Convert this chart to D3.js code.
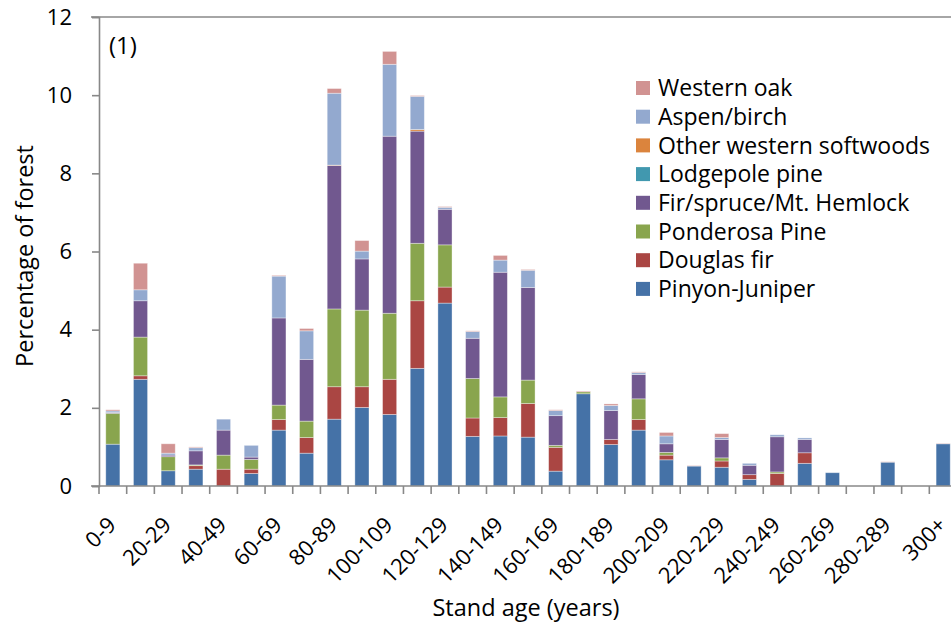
<!DOCTYPE html>
<html>
<head>
<meta charset="utf-8">
<script src="https://cdn.jsdelivr.net/npm/d3@7"></script>
<style>
  html, body { margin: 0; padding: 0; background: #fff; }
  svg text { font-family: "Open Sans", Lato, sans-serif; fill: #000; }
</style>
</head>
<body>
<svg id="chart" width="951" height="631"></svg>
<script>
// Stand-age classes (10-year bins)
const ageClasses = ["0-9","10-19","20-29","30-39","40-49","50-59","60-69","70-79","80-89","90-99",
  "100-109","110-119","120-129","130-139","140-149","150-159","160-169","170-179","180-189","190-199",
  "200-209","210-219","220-229","230-239","240-249","250-259","260-269","270-279","280-289","290-299","300+"];

// Percentage of forest by forest-type group, one value per age class
const pinyonJuniper = [1.07,2.73,0.39,0.43,0,0.32,1.43,0.84,1.71,2.01,1.83,3.01,4.68,1.27,1.28,1.25,0.38,2.36,1.06,1.43,0.67,0.51,0.48,0.17,0,0.58,0.34,0,0.61,0,1.08];
const douglasFir    = [0,0.09,0,0.09,0.43,0.11,0.27,0.40,0.83,0.53,0.90,1.73,0.41,0.47,0.47,0.86,0.61,0,0.13,0.27,0.12,0,0.16,0.12,0.32,0.27,0,0,0,0,0];
const ponderosaPine = [0.79,0.99,0.36,0.02,0.36,0.25,0.37,0.42,1.99,1.96,1.69,1.47,1.08,1.01,0.53,0.60,0.05,0.05,0,0.53,0.07,0,0.08,0,0.04,0,0,0,0,0,0];
const firSpruce     = [0.02,0.93,0.04,0.36,0.64,0.06,2.23,1.58,3.67,1.31,4.53,2.87,0.91,1.03,3.19,2.37,0.76,0,0.74,0.62,0.22,0,0.47,0.24,0.90,0.34,0,0,0,0,0];
const lodgepolePine = [0,0,0,0,0,0,0,0,0,0,0,0,0,0,0,0,0,0,0,0,0,0,0,0,0,0,0,0,0,0,0];
const otherSoftwood = [0,0,0,0,0,0,0,0,0.01,0,0,0.04,0,0,0,0,0,0,0,0,0,0,0,0,0,0,0,0,0,0,0];
const aspenBirch    = [0.04,0.28,0.05,0.08,0.28,0.30,1.07,0.73,1.84,0.20,1.84,0.85,0.05,0.17,0.31,0.44,0.13,0,0.13,0.05,0.20,0,0.05,0.05,0.05,0.04,0,0,0,0,0];
const westernOak    = [0.03,0.68,0.24,0.02,0,0,0.02,0.06,0.12,0.27,0.33,0.02,0.02,0.02,0.12,0.02,0.02,0.02,0.04,0.02,0.09,0.01,0.10,0,0,0,0,0,0.01,0,0.01];

// Series, bottom of the stack first
const seriesNames  = ["Pinyon-Juniper","Douglas fir","Ponderosa Pine","Fir/spruce/Mt. Hemlock","Lodgepole pine","Other western softwoods","Aspen/birch","Western oak"];
const seriesValues = [pinyonJuniper, douglasFir, ponderosaPine, firSpruce, lodgepolePine, otherSoftwood, aspenBirch, westernOak];
const seriesColors = ["#4572A7","#AA4643","#89A54E","#71588F","#4198AF","#DB843D","#93A9CF","#D19392"];

const yTicks = [0, 2, 4, 6, 8, 10, 12];

const svg = d3.select("#chart");
const plotLeft = 99, plotRight = 957, plotTop = 17, plotBottom = 486;

const x = d3.scaleBand().domain(ageClasses).range([plotLeft, plotRight]).paddingInner(0.49).paddingOuter(0.245);
const y = d3.scaleLinear().domain([0, 12]).range([plotBottom, plotTop]);

// Rows for the stack layout
const rows = ageClasses.map((c, i) => {
  const r = { age: c };
  seriesNames.forEach((s, k) => { r[s] = seriesValues[k][i]; });
  return r;
});
const stacked = d3.stack().keys(seriesNames)(rows);

// Bars
svg.append("g").selectAll("g").data(stacked).join("g")
  .attr("fill", (d, i) => seriesColors[i])
  .selectAll("rect").data(d => d.filter(p => p[1] - p[0] > 0)).join("rect")
  .attr("x", d => x(d.data.age))
  .attr("width", x.bandwidth())
  .attr("y", d => y(d[1]))
  .attr("height", d => y(d[0]) - y(d[1]))
  .attr("stroke", "#ffffff")
  .attr("stroke-opacity", 0.45)
  .attr("stroke-width", 0.8);

const axisColor = "#888888";

// Top frame line at the axis maximum
svg.append("line")
  .attr("x1", plotLeft - 8).attr("x2", 951)
  .attr("y1", y(12)).attr("y2", y(12))
  .attr("stroke", axisColor).attr("stroke-width", 1.6);

// Y axis
const yAxis = svg.append("g").attr("transform", `translate(${plotLeft},0)`)
  .call(d3.axisLeft(y).tickValues(yTicks).tickFormat(d3.format("d")).tickSize(7).tickPadding(20));
yAxis.select(".domain").attr("stroke", axisColor).attr("stroke-width", 1.6);
yAxis.selectAll(".tick line").attr("stroke", axisColor).attr("stroke-width", 1.6);
yAxis.selectAll(".tick text").attr("font-size", 22).attr("font-family", "'Open Sans', sans-serif").attr("fill", "#000");

// X axis baseline and category-boundary ticks
const xAxis = svg.append("g").attr("transform", `translate(0,${plotBottom})`)
  .call(d3.axisBottom(x).tickValues(ageClasses.filter((d, i) => i % 2 === 0)).tickSize(0).tickPadding(0));
xAxis.select(".domain").remove();
xAxis.append("line").attr("x1", plotLeft - 8).attr("x2", 951).attr("y1", 0).attr("y2", 0)
  .attr("stroke", axisColor).attr("stroke-width", 1.6);
const boundaries = d3.range(ageClasses.length + 1).map(i => plotLeft + i * x.step());
xAxis.selectAll("line.bound").data(boundaries).join("line").attr("class", "bound")
  .attr("x1", d => d).attr("x2", d => d).attr("y1", 0).attr("y2", 8)
  .attr("stroke", axisColor).attr("stroke-width", 1.6);
xAxis.selectAll(".tick text")
  .attr("font-size", 22).attr("font-family", "'Open Sans', sans-serif").attr("fill", "#000")
  .attr("text-anchor", "end").attr("dy", "0.35em")
  .attr("transform", "translate(-1,35) rotate(-45)");

// Axis titles
svg.append("text").attr("x", 526).attr("y", 616).attr("text-anchor", "middle")
  .attr("font-size", 23.5).text("Stand age (years)");
svg.append("text").attr("transform", "translate(33,256) rotate(-90)").attr("text-anchor", "middle")
  .attr("font-size", 23.5).text("Percentage of forest");

// Panel label
svg.append("text").attr("x", 109).attr("y", 54).attr("font-size", 24).text("(1)");

// Legend, top entry is the top of the stack
const legendOrder = d3.range(seriesNames.length).reverse();
const legend = svg.append("g").selectAll("g").data(legendOrder).join("g")
  .attr("transform", (d, i) => `translate(636,${81 + i * 28.7})`);
legend.append("rect").attr("width", 14).attr("height", 14).attr("fill", d => seriesColors[d]);
legend.append("text").attr("x", 22).attr("y", 7).attr("dy", "0.36em")
  .attr("font-size", 23).text(d => seriesNames[d]);
</script>
</body>
</html>
